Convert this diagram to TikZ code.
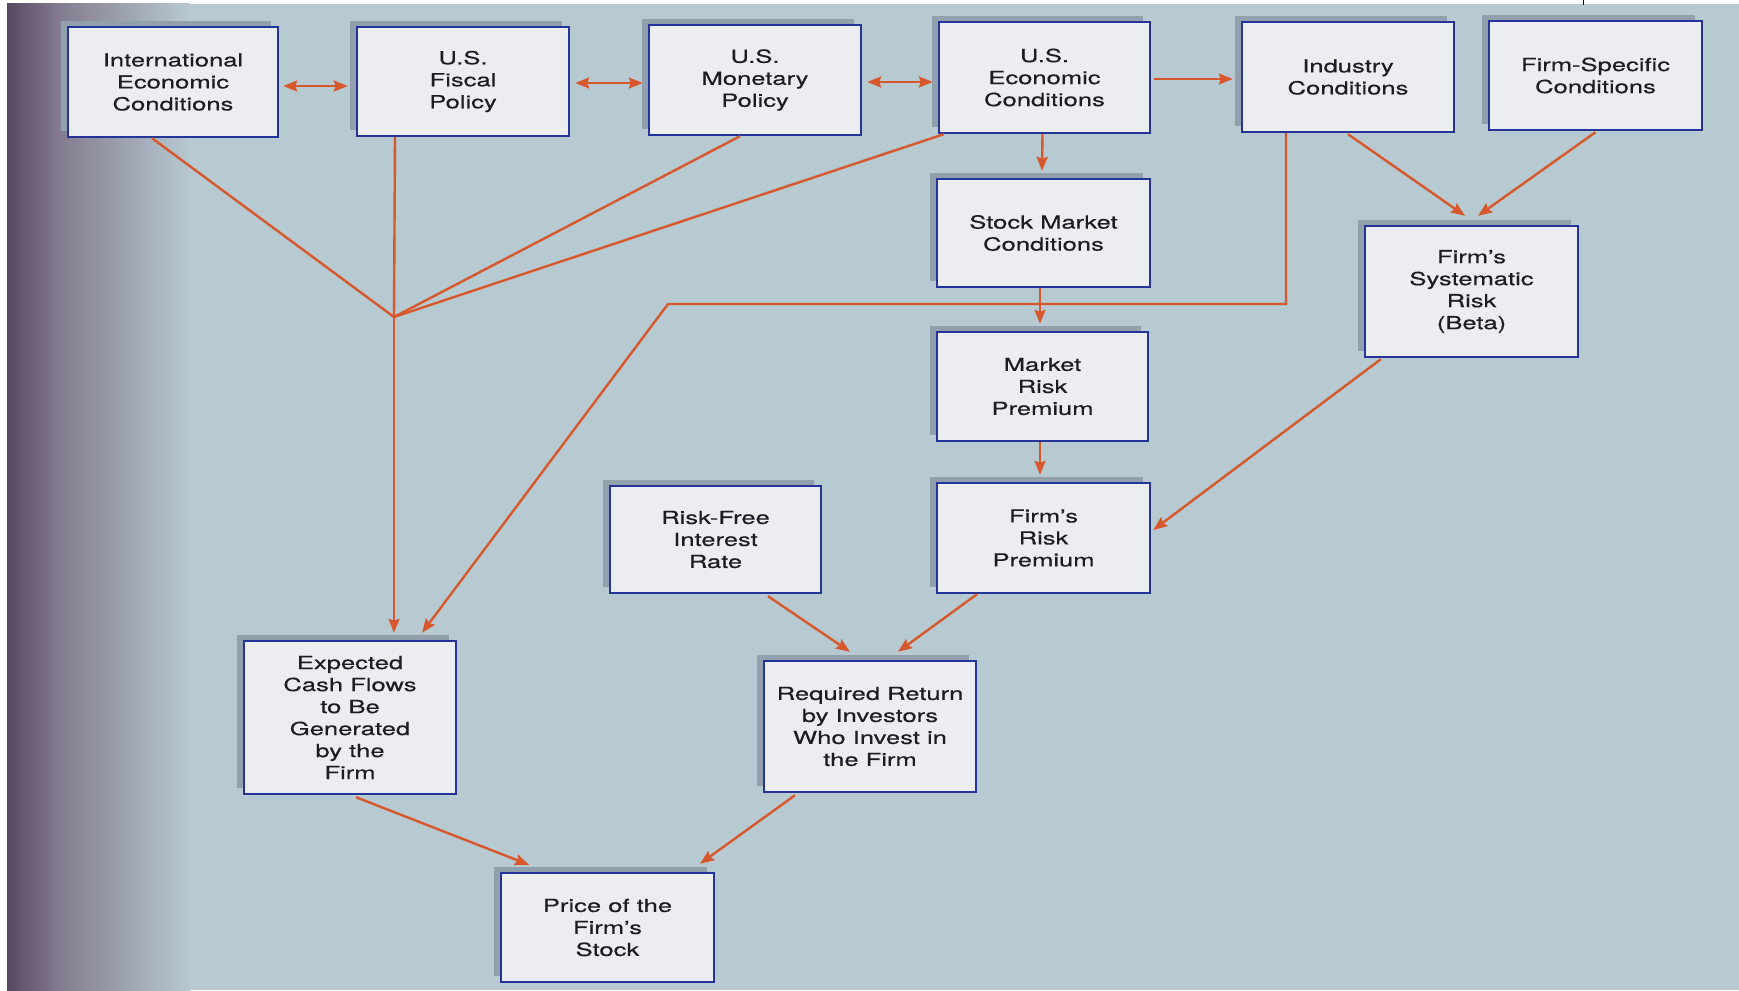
\documentclass[tikz,border=0pt]{standalone}
\usepackage{fontspec}
\setmainfont{TeX Gyre Heros}[FakeStretch=1.42,FakeBold=0.4]
\usetikzlibrary{arrows.meta,shadows}
\definecolor{bg}{RGB}{183,201,209}
\definecolor{shad}{RGB}{146,160,174}
\definecolor{boxfill}{RGB}{236,237,240}
\definecolor{boxline}{RGB}{36,52,152}
\definecolor{conn}{RGB}{214,88,44}
\definecolor{txt}{RGB}{28,28,34}
\definecolor{spine}{RGB}{88,72,98}
\definecolor{spinemid}{RGB}{132,124,144}
\tikzset{
  box/.style={draw=boxline, line width=2.4pt, fill=boxfill, text=txt, align=center,
    inner sep=0pt, font=\fontsize{18}{22}\selectfont,
    general shadow={fill=shad, shadow xshift=-7pt, shadow yshift=6pt}},
  link/.style={draw=conn, line width=2.4pt},
  arr/.style={link, -{Stealth[length=14pt,width=11pt,inset=2pt]}},
  dbl/.style={link, {Stealth[length=14pt,width=11pt,inset=2pt]}-{Stealth[length=14pt,width=11pt,inset=2pt]}},
}
\begin{document}
\begin{tikzpicture}[x=1pt,y=-1pt]
\useasboundingbox (0,0) rectangle (1739,990);
% background
\fill[white] (0,0) rectangle (1739,990);
\fill[bg] (7,4) rectangle (1739,990);
\shade[left color=spine, right color=spinemid] (7,4) rectangle (60,990);
\shade[left color=spinemid, right color=bg] (60,4) rectangle (190,990);
\draw[black, line width=1pt] (1583,0) -- (1583,5);

% nodes
\node[box, minimum width=210, minimum height=110] (intl) at (173,82) {International\\Economic\\Conditions};
\node[box, minimum width=212, minimum height=109] (fiscal) at (463,81.5) {U.S.\\Fiscal\\Policy};
\node[box, minimum width=212, minimum height=110] (monet) at (755,80) {U.S.\\Monetary\\Policy};
\node[box, minimum width=211, minimum height=111] (econ) at (1044.5,77.5) {U.S.\\Economic\\Conditions};
\node[box, minimum width=212, minimum height=110] (industry) at (1348,77) {Industry\\Conditions};
\node[box, minimum width=213, minimum height=109] (firmspec) at (1595.5,75.5) {Firm-Specific\\Conditions};
\node[box, minimum width=213, minimum height=108] (stock) at (1043.5,233) {Stock Market\\Conditions};
\node[box, minimum width=213, minimum height=131] (syst) at (1471.5,291.5) {Firm’s\\Systematic\\Risk\\(Beta)};
\node[box, minimum width=211, minimum height=109] (mrp) at (1042.5,386.5) {Market\\Risk\\Premium};
\node[box, minimum width=211, minimum height=107] (rf) at (715.5,539.5) {Risk-Free\\Interest\\Rate};
\node[box, minimum width=213, minimum height=110] (frp) at (1043.5,538) {Firm’s\\Risk\\Premium};
\node[box, minimum width=212, minimum height=153] (ecf) at (350,717.5) {Expected\\Cash Flows\\to Be\\Generated\\by the\\Firm};
\node[box, minimum width=212, minimum height=131] (rr) at (870,726.5) {Required Return\\by Investors\\Who Invest in\\the Firm};
\node[box, minimum width=213, minimum height=109] (price) at (607.5,927.5) {Price of the\\Firm’s\\Stock};

% junction and bend points
\coordinate (J) at (394,317);
\coordinate (k1) at (1286,304);
\coordinate (k2) at (668,304);

% connectors
\draw[dbl] ([shift={(4,4)}]intl.east) -- ([shift={(-8,4.5)}]fiscal.west);
\draw[dbl] ([shift={(5,1.5)}]fiscal.east) -- ([shift={(-5,3)}]monet.west);
\draw[dbl] ([shift={(5,2)}]monet.east) -- ([shift={(-5,4.5)}]econ.west);
\draw[arr] ([shift={(3,1.5)}]econ.east) -- ([shift={(-8,2)}]industry.west);
\draw[arr] ([shift={(-2,0)}]econ.south) -- ([shift={(-1.5,-7)}]stock.north);

\draw[link] ([shift={(-21,0)}]intl.south) -- (J);
\draw[link] ([shift={(-68,0)}]fiscal.south) -- (J);
\draw[link] ([shift={(-15,0)}]monet.south) -- (J);
\draw[link] ([shift={(6,0)}]econ.south west) -- (J);
\draw[arr] (J) -- ([shift={(44,-7)}]ecf.north);

\draw[arr, line join=miter] ([shift={(-62,0)}]industry.south) -- (k1) -- (k2) -- ([shift={(72,-7)}]ecf.north);

\draw[arr] ([shift={(-3.5,0)}]stock.south) -- ([shift={(-2.5,-7)}]mrp.north);
\draw[arr] ([shift={(-2.5,0)}]mrp.south) -- ([shift={(-3.5,-7)}]frp.north);
\draw[arr] ([shift={(17,1)}]syst.south west) -- ([shift={(2,-8)}]frp.east);
\draw[arr] ([shift={(0,1)}]industry.south) -- ([shift={(-6.5,-9)}]syst.north);
\draw[arr] ([shift={(0,1)}]firmspec.south) -- ([shift={(6.5,-9)}]syst.north);
\draw[arr] ([shift={(52.5,2)}]rf.south) -- ([shift={(-20,-8)}]rr.north);
\draw[arr] ([shift={(-66.5,0)}]frp.south) -- ([shift={(28,-8)}]rr.north);
\draw[arr] ([shift={(6,2)}]ecf.south) -- ([shift={(-78.5,-7)}]price.north);
\draw[arr] ([shift={(-75,2)}]rr.south) -- ([shift={(92.5,-8)}]price.north);
\end{tikzpicture}
\end{document}
